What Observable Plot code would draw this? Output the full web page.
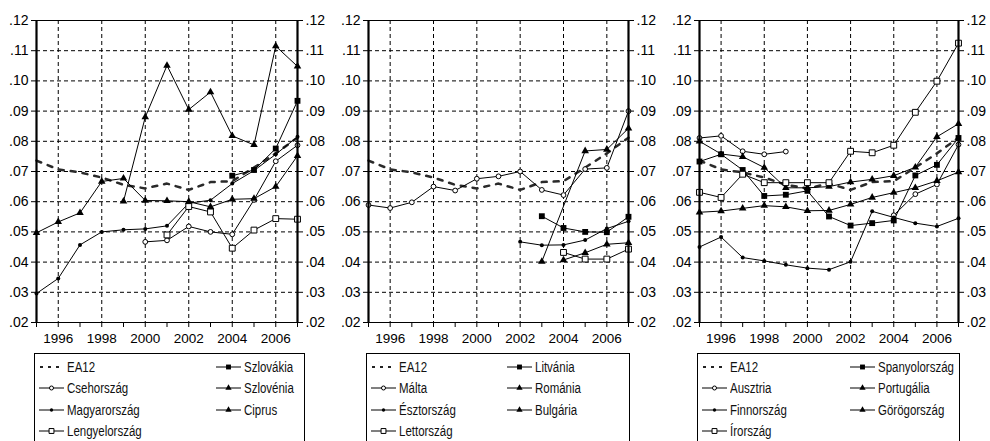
<!DOCTYPE html>
<html>
<head>
<meta charset="utf-8">
<script src="https://cdn.jsdelivr.net/npm/d3@7"></script>
<script src="https://cdn.jsdelivr.net/npm/@observablehq/plot@0.6"></script>
<style>
  body { margin: 0; background: #fff; }
  #wrap { position: relative; width: 990px; height: 441px; overflow: hidden; font-family: "Liberation Sans", Arial, sans-serif; }
  .panel { position: absolute; top: 0; }
  .legend { position: absolute; top: 353px; height: 100px; border: 1px solid #000; box-sizing: border-box; background: #fff;
            font-family: "Liberation Sans", Arial, sans-serif; font-size: 14px; color: #111; }
  .item { position: absolute; display: flex; align-items: center; height: 18px; white-space: nowrap; }
  .item svg { margin-right: 3px; }
  .item span { display: inline-block; transform: scaleX(0.82); transform-origin: left center; }
</style>
</head>
<body>
<div id="wrap"></div>
<script>
// Years on the x axis
const years = [1995, 1996, 1997, 1998, 1999, 2000, 2001, 2002, 2003, 2004, 2005, 2006, 2007];
const yearLabels = [1996, 1998, 2000, 2002, 2004, 2006];
const yTicks = [0.02, 0.03, 0.04, 0.05, 0.06, 0.07, 0.08, 0.09, 0.10, 0.11, 0.12];

// Euro area average (shown in every panel)
const ea12 = [0.0736, 0.0707, 0.0697, 0.0680, 0.0656, 0.0644, 0.0660, 0.0639, 0.0665, 0.0668, 0.0713, 0.0760, 0.0812];

// Panel 1: Central Europe + Cyprus
const szlovakia     = [null, null, null, null, null, null, null, null, null, 0.0686, 0.0705, 0.0776, 0.0934];
const csehorszag    = [null, null, null, null, null, 0.0467, 0.0472, 0.0518, 0.0500, 0.0492, 0.0606, 0.0734, 0.0787];
const szlovenia     = [0.0497, 0.0533, 0.0563, 0.0667, 0.0677, 0.0604, 0.0603, 0.0600, 0.0583, 0.0608, 0.0610, 0.0650, 0.0752];
const magyarorszag  = [0.0296, 0.0346, 0.0457, 0.0500, 0.0507, 0.0510, 0.0520, 0.0595, 0.0605, 0.0660, 0.0703, 0.0757, 0.0815];
const ciprus        = [null, null, null, null, 0.0601, 0.0880, 0.1051, 0.0905, 0.0963, 0.0818, 0.0788, 0.1115, 0.1048];
const lengyelorszag = [null, null, null, null, null, null, 0.0490, 0.0584, 0.0566, 0.0446, 0.0506, 0.0544, 0.0542];

// Panel 2: Baltic states, Malta, Romania, Bulgaria
const litvania   = [null, null, null, null, null, null, null, null, 0.0552, 0.0513, 0.0500, 0.0499, 0.0550];
const malta      = [0.0589, 0.0579, 0.0598, 0.0650, 0.0637, 0.0676, 0.0684, 0.0700, 0.0639, 0.0622, 0.0708, 0.0712, 0.0900];
const romania    = [null, null, null, null, null, null, null, null, 0.0402, null, 0.0768, 0.0773, 0.0843];
const esztorszag = [null, null, null, null, null, null, null, 0.0467, 0.0456, 0.0457, 0.0473, 0.0511, 0.0535];
const bulgaria   = [null, null, null, null, null, null, null, null, null, 0.0407, 0.0431, 0.0459, 0.0464];
const lettorszag = [null, null, null, null, null, null, null, null, null, 0.0432, 0.0410, 0.0410, 0.0443];

// Panel 3: older euro-area members
const spanyolorszag = [0.0733, 0.0757, 0.0705, 0.0619, 0.0623, 0.0636, 0.0551, 0.0521, 0.0529, 0.0538, 0.0687, 0.0722, 0.0811];
const ausztria      = [0.0811, 0.0818, 0.0767, 0.0757, 0.0766, null, null, null, null, 0.0555, 0.0625, 0.0657, 0.0789];
const portugalia    = [0.0800, 0.0758, 0.0749, 0.0713, 0.0646, 0.0646, 0.0650, 0.0665, 0.0674, 0.0686, 0.0714, 0.0815, 0.0858];
const finnorszag    = [0.0450, 0.0483, 0.0415, 0.0404, 0.0391, 0.0380, 0.0375, 0.0401, 0.0568, 0.0548, 0.0529, 0.0518, 0.0545];
const gorogorszag   = [0.0565, 0.0569, 0.0578, 0.0587, 0.0583, 0.0570, 0.0571, 0.0591, 0.0614, 0.0630, 0.0646, 0.0669, 0.0698];
const irorszag      = [0.0631, 0.0614, 0.0691, 0.0663, 0.0663, 0.0663, 0.0663, 0.0767, 0.0762, 0.0787, 0.0896, 0.0999, 0.1125];

// Marker styles
const markers = {
  dot:      {symbol: "circle",   r: 2.0, fill: "#000", stroke: "none"},
  circle:   {symbol: "circle",   r: 2.4, fill: "#fff", stroke: "#000"},
  square:   {symbol: "square",   r: 3.3, fill: "#000", stroke: "none"},
  osquare:  {symbol: "square",   r: 3.3, fill: "#fff", stroke: "#000"},
  triangle: {symbol: "triangle", r: 2.8, fill: "#000", stroke: "none"}
};

const panels = [
  {left: 0, frame: [36, 297], legend: {x: 34, w: 271, col2: 181},
   series: [
     {name: "EA12", values: ea12, kind: "ea"},
     {name: "Szlovákia", values: szlovakia, kind: "square"},
     {name: "Csehország", values: csehorszag, kind: "circle"},
     {name: "Szlovénia", values: szlovenia, kind: "triangle"},
     {name: "Magyarország", values: magyarorszag, kind: "dot"},
     {name: "Ciprus", values: ciprus, kind: "triangle"},
     {name: "Lengyelország", values: lengyelorszag, kind: "osquare"}
   ]},
  {left: 330, frame: [368, 628], legend: {x: 366, w: 264, col2: 140},
   series: [
     {name: "EA12", values: ea12, kind: "ea"},
     {name: "Litvánia", values: litvania, kind: "square"},
     {name: "Málta", values: malta, kind: "circle"},
     {name: "Románia", values: romania, kind: "triangle"},
     {name: "Észtország", values: esztorszag, kind: "dot"},
     {name: "Bulgária", values: bulgaria, kind: "triangle"},
     {name: "Lettország", values: lettorszag, kind: "osquare"}
   ]},
  {left: 660, frame: [699, 958], legend: {x: 697, w: 263, col2: 152},
   series: [
     {name: "EA12", values: ea12, kind: "ea"},
     {name: "Spanyolország", values: spanyolorszag, kind: "square"},
     {name: "Ausztria", values: ausztria, kind: "circle"},
     {name: "Portugália", values: portugalia, kind: "triangle"},
     {name: "Finnország", values: finnorszag, kind: "dot"},
     {name: "Görögország", values: gorogorszag, kind: "triangle"},
     {name: "Írország", values: irorszag, kind: "osquare"}
   ]}
];

// Turn a series into rows; a run of missing years longer than one breaks the line
function rows(s) {
  const out = [];
  let seg = 0, last = null;
  years.forEach((y, i) => {
    const v = s.values[i];
    if (v == null) return;
    if (last != null && y - last > 2) seg++;
    out.push({year: y, value: v, name: s.name, seg: s.name + seg});
    last = y;
  });
  return out;
}

const yFmt = d => d3.format(".2f")(d).replace(/^0/, "");
const wrap = document.getElementById("wrap");

for (const p of panels) {
  const W = 330, H = 350;
  const ml = p.frame[0] - p.left, mr = W - (p.frame[1] - p.left);
  const ea = p.series.find(s => s.kind === "ea");
  const others = p.series.filter(s => s.kind !== "ea");
  const xExt = d3.extent(years);

  const marks = [
    Plot.gridY({ticks: yTicks.slice(1, -1), stroke: "#000", strokeOpacity: 1, strokeWidth: 1, strokeDasharray: "4,3"}),
    Plot.gridX({ticks: yearLabels, stroke: "#000", strokeOpacity: 1, strokeWidth: 1, strokeDasharray: "4,3"}),
    Plot.line(rows(ea), {x: "year", y: "value", stroke: "#2a2a2a", strokeWidth: 2.5, strokeDasharray: "5,7"}),
    Plot.line(others.flatMap(rows), {x: "year", y: "value", z: "seg", stroke: "#000", strokeWidth: 1})
  ];
  for (const s of others) {
    const m = markers[s.kind];
    marks.push(Plot.dot(rows(s), {x: "year", y: "value", symbol: m.symbol, r: m.r, fill: m.fill, stroke: m.stroke, strokeWidth: 1}));
  }
  marks.push(
    Plot.frame({stroke: "#000", strokeWidth: 1}),
    Plot.ruleX(xExt, {stroke: "#000", strokeWidth: 2.2}),
    Plot.axisY({anchor: "left", label: null, ticks: yTicks, tickFormat: yFmt, tickSize: 5, tickPadding: 3, fontSize: 14}),
    Plot.axisY({anchor: "right", label: null, ticks: yTicks, tickFormat: yFmt, tickSize: 5, tickPadding: 3, fontSize: 14}),
    Plot.axisX({label: null, ticks: years, tickFormat: d => (yearLabels.includes(d) ? String(d) : ""), tickSize: 5, tickPadding: 6, fontSize: 13.5})
  );

  const svg = Plot.plot({
    width: W, height: H,
    marginLeft: ml, marginRight: mr, marginTop: 20, marginBottom: 28,
    x: {domain: xExt},
    y: {domain: [yTicks[0], yTicks[yTicks.length - 1]]},
    style: {background: "transparent", color: "#000", fontFamily: "'Liberation Sans', Arial, sans-serif"},
    marks
  });
  svg.classList.add("panel");
  svg.style.left = p.left + "px";
  wrap.appendChild(svg);

  // Legend box beneath the panel
  const lg = document.createElement("div");
  lg.className = "legend";
  lg.style.left = p.legend.x + "px";
  lg.style.width = p.legend.w + "px";
  p.series.forEach((s, i) => {
    const row = Math.floor(i / 2), col = i % 2;
    const it = document.createElement("div");
    it.className = "item";
    it.style.left = (col === 0 ? 4 : p.legend.col2) + "px";
    it.style.top = (4 + row * 21.3) + "px";
    const sw = d3.create("svg").attr("width", 25).attr("height", 12);
    if (s.kind === "ea") {
      sw.append("line").attr("x1", 1).attr("x2", 24).attr("y1", 6).attr("y2", 6)
        .attr("stroke", "#222").attr("stroke-width", 2.2).attr("stroke-dasharray", "3,5");
    } else {
      sw.append("line").attr("x1", 0).attr("x2", 25).attr("y1", 6).attr("y2", 6).attr("stroke", "#000").attr("stroke-width", 1);
      const m = markers[s.kind];
      sw.append("path").attr("transform", "translate(12.5,6)")
        .attr("d", d3.symbol(m.symbol === "circle" ? d3.symbolCircle : m.symbol === "square" ? d3.symbolSquare : d3.symbolTriangle, Math.PI * m.r * m.r * 0.7)())
        .attr("fill", m.fill).attr("stroke", m.stroke === "none" ? null : m.stroke);
    }
    it.appendChild(sw.node());
    const t = document.createElement("span");
    t.textContent = s.name;
    it.appendChild(t);
    lg.appendChild(it);
  });
  wrap.appendChild(lg);
}
</script>
</body>
</html>
